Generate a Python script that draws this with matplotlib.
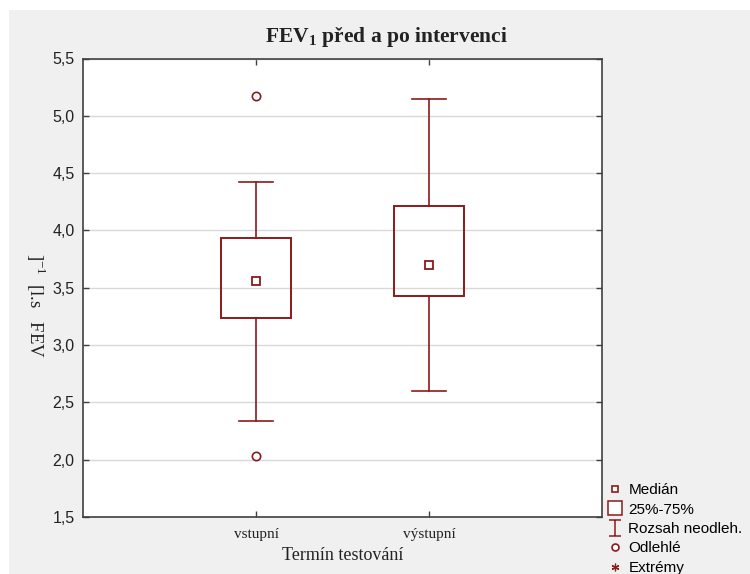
import numpy as np
import matplotlib.pyplot as plt
from matplotlib.patches import Rectangle
from matplotlib.lines import Line2D
from matplotlib.path import Path

plt.rcParams['mathtext.fontset'] = 'custom'
plt.rcParams['mathtext.rm'] = 'Liberation Serif'
plt.rcParams['mathtext.bf'] = 'Liberation Serif:bold'

# values
groups = ["vstupní", "výstupní"]
medians = [3.56, 3.70]
q1 = [3.24, 3.43]
q3 = [3.93, 4.21]
whisk_lo = [2.34, 2.60]
whisk_hi = [4.42, 5.15]
outliers = [[5.17, 2.03], []]

yticks = [1.5, 2.0, 2.5, 3.0, 3.5, 4.0, 4.5, 5.0, 5.5]
red = '#8b1a1a'
serif = 'Liberation Serif'
sans = 'Liberation Sans'

fig = plt.figure(figsize=(7.5, 5.74), dpi=100)
fig.patches.append(Rectangle((9 / 750, 0), 1, 1 - 10 / 574, transform=fig.transFigure,
                             facecolor='#f0f0f0', edgecolor='none', zorder=-10))

ax = fig.add_axes([83 / 750, 1 - 517 / 574, 519 / 750, (517 - 58.5) / 574])
ax.set_facecolor('white')

pos = np.arange(1, len(groups) + 1)
bw = 0.405
cw = 0.2
for i, p in enumerate(pos):
    ax.add_patch(Rectangle((p - bw / 2, q1[i]), bw, q3[i] - q1[i], facecolor='none',
                           edgecolor=red, lw=1.4, zorder=3))
    ax.plot([p, p], [q3[i], whisk_hi[i]], color=red, lw=1.2, zorder=3)
    ax.plot([p, p], [whisk_lo[i], q1[i]], color=red, lw=1.2, zorder=3)
    ax.plot([p - cw / 2, p + cw / 2], [whisk_hi[i]] * 2, color=red, lw=1.2, zorder=3)
    ax.plot([p - cw / 2, p + cw / 2], [whisk_lo[i]] * 2, color=red, lw=1.2, zorder=3)
    ax.plot(p, medians[i], marker='s', ms=6, mfc='white', mec=red, mew=1.3, zorder=4)
    if outliers[i]:
        ax.plot([p] * len(outliers[i]), outliers[i], 'o', ms=6, mfc='white', mec=red,
                mew=1.2, zorder=4)

ax.set_xlim(0, 3)
ax.set_ylim(1.5, 5.5)
ax.set_xticks(pos)
ax.set_xticklabels(groups, fontfamily=serif, fontsize=11, color='#222222')
ax.set_yticks(yticks)
ax.set_yticklabels([f"{v:.1f}".replace('.', ',') for v in yticks], fontfamily=sans,
                   fontsize=11.5, color='#222222')
ax.grid(axis='y', color='#d9d9d9', lw=1)
ax.set_axisbelow(True)
ax.tick_params(direction='in', length=4, width=1, color='#404040', top=True, right=True,
               pad=6)
ax.tick_params(axis='x', pad=8)
for s in ax.spines.values():
    s.set_color('#404040')
    s.set_linewidth(1.2)

ax.set_xlabel("Termín testování", fontfamily=serif, fontsize=13, color='#222222', labelpad=4)
fig.text(36 / 750, 1 - 306 / 574, "]$^{-1}$  [l.s   FEV", rotation=-90, ha='center',
         va='center', fontfamily=serif, fontsize=13.5, color='#222222')
fig.text(386 / 750, 1 - 37 / 574, r"FEV$_\mathbf{1}$ před a po intervenci", ha='center',
         va='center', fontfamily=serif, fontweight='bold', fontsize=15.5, color='#222222')

# legend handles
ibeam = Path([(-0.35, 0.5), (0.35, 0.5), (0, 0.5), (0, -0.5), (-0.35, -0.5), (0.35, -0.5)],
             [Path.MOVETO, Path.LINETO, Path.MOVETO, Path.LINETO, Path.MOVETO, Path.LINETO])
handles = [
    Line2D([], [], ls='none', marker='s', ms=5, mfc='white', mec=red, mew=1.2),
    Line2D([], [], ls='none', marker='s', ms=10, mfc='white', mec=red, mew=1.1),
    Line2D([], [], ls='none', marker=ibeam, ms=12, mec=red, mew=1.1),
    Line2D([], [], ls='none', marker='o', ms=5, mfc='white', mec=red, mew=1.2),
    Line2D([], [], ls='none', marker=(6, 2, 0), ms=5.5, mec=red, mew=0.9),
]
labels = ["Medián", "25%-75%", "Rozsah neodleh.", "Odlehlé", "Extrémy"]
fig.legend(handles, labels, loc='upper left', bbox_to_anchor=(607.5 / 750, 1 - 483 / 574),
           frameon=False, prop={'family': sans, 'size': 11}, handlelength=1.0,
           handletextpad=0.36, labelspacing=0.36, borderpad=0, borderaxespad=0)

fig.savefig("out.png", dpi=100)
